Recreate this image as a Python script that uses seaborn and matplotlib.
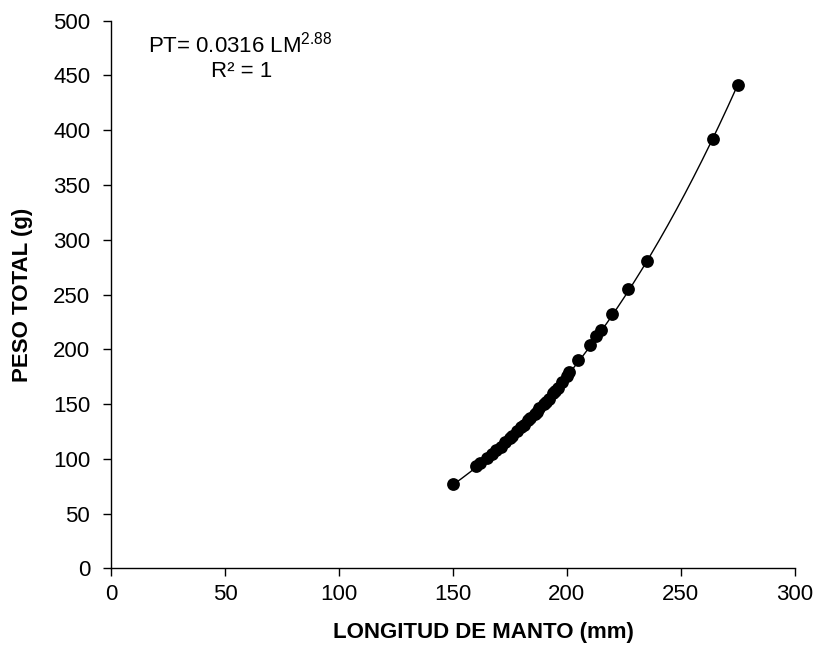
import numpy as np
import pandas as pd
import matplotlib
matplotlib.use("Agg")
import matplotlib.pyplot as plt
import seaborn as sns

# Data
longitud = [150, 160, 162, 165, 167, 169, 171, 173, 175, 176, 178, 180, 181, 183,
            184, 186, 187, 188, 190, 191, 192, 194, 195, 196, 198, 200, 201,
            205, 210, 213, 215, 220, 227, 235, 264, 275]
peso = [77, 93, 96, 101, 104, 108, 111, 115, 119, 121, 125, 129, 131, 135,
        137, 141, 143, 146, 150, 152, 155, 160, 162, 165, 170, 176, 179,
        190, 204, 212, 218, 232, 255, 281, 392, 441]

x_ticks = [0, 50, 100, 150, 200, 250, 300]
y_ticks = [0, 50, 100, 150, 200, 250, 300, 350, 400, 450, 500]

df = pd.DataFrame({"LM": longitud, "PT": peso})

sns.set_theme(style="white")
plt.rcParams["font.family"] = ["Liberation Sans", "DejaVu Sans"]
plt.rcParams["mathtext.fontset"] = "custom"
plt.rcParams["mathtext.rm"] = "Liberation Sans"
plt.rcParams["mathtext.it"] = "Liberation Sans"
plt.rcParams["text.color"] = "black"
plt.rcParams["axes.labelcolor"] = "black"
plt.rcParams["xtick.color"] = "black"
plt.rcParams["ytick.color"] = "black"

fig = plt.figure(figsize=(8.16, 6.48), dpi=100)
ax = fig.add_axes([0.136, 0.123, 0.838, 0.845])

# Power trendline fitted from the data
b, loga = np.polyfit(np.log(df["LM"]), np.log(df["PT"]), 1)
xs = np.linspace(df["LM"].min(), df["LM"].max(), 200)
ax.plot(xs, np.exp(loga) * xs ** b, color="black", lw=1.0, zorder=2)

sns.scatterplot(data=df, x="LM", y="PT", ax=ax, color="black", s=85,
                edgecolor="black", linewidth=0, zorder=3)

ax.set_xlim(0, 300)
ax.set_ylim(0, 500)
ax.set_xticks(x_ticks)
ax.set_yticks(y_ticks)
ax.tick_params(axis="both", labelsize=16, direction="out", length=6,
               width=1, color="black", bottom=True, left=True)
ax.tick_params(axis="y", pad=9)
ax.tick_params(axis="x", pad=5)
for s in ["top", "right"]:
    ax.spines[s].set_visible(False)
for s in ["left", "bottom"]:
    ax.spines[s].set_color("black")
    ax.spines[s].set_linewidth(1)

ax.set_xlabel("LONGITUD DE MANTO (mm)", fontsize=16, fontweight="bold", labelpad=14)
ax.xaxis.set_label_coords(0.545, -0.098)
ax.set_ylabel("PESO TOTAL (g)", fontsize=16, fontweight="bold", labelpad=14)

ax.text(0.054, 0.957, r"PT= 0.0316 LM$^{2.88}$", transform=ax.transAxes,
        fontsize=16, ha="left", va="center")
ax.text(0.146, 0.908, "R² = 1", transform=ax.transAxes,
        fontsize=16, ha="left", va="center")

fig.savefig("out.png", dpi=100)
